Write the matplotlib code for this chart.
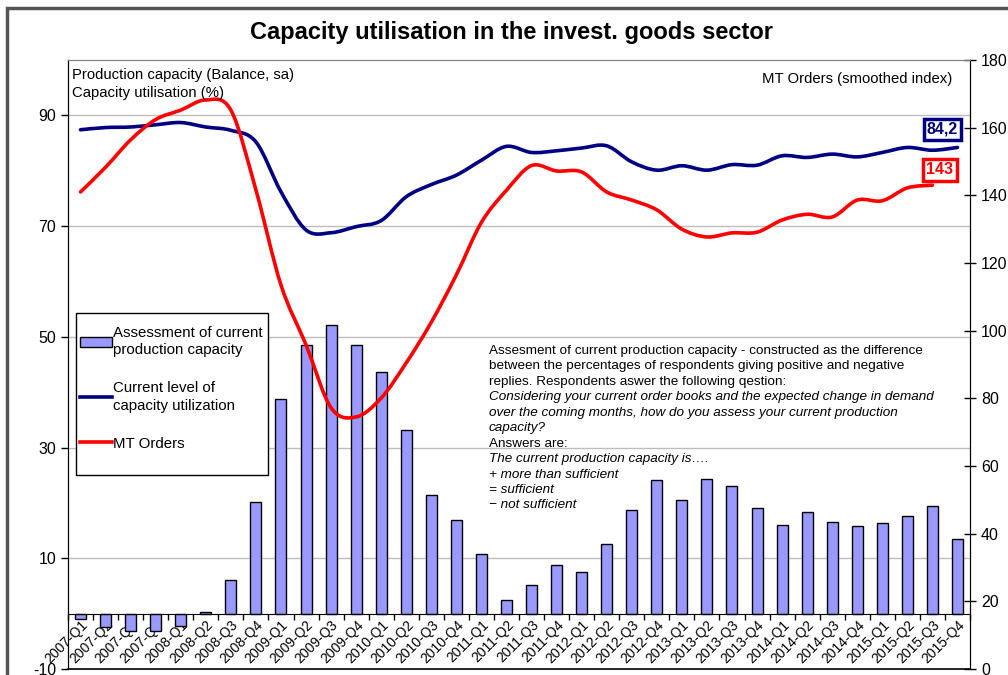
"""
Capacity utilisation in the invest. goods sector:
bars (production capacity balance) + two smoothed lines on twin axes.
"""

import numpy as np
import matplotlib.pyplot as plt
from matplotlib.path import Path
from matplotlib.patches import PathPatch, Rectangle
from matplotlib.lines import Line2D

plt.rcParams["font.family"] = ["Liberation Sans", "DejaVu Sans"]
plt.rcParams["axes.unicode_minus"] = False

# ── Data ─────────────────────────────────────────────────────────────────────

quarters = [f"{y}-Q{q}" for y in range(2007, 2016) for q in range(1, 5)]

capacity_balance = [
    -1.0, -2.5, -3.1, -3.1, -2.3, 0.3, 6.0, 20.2,
    38.8, 48.6, 52.2, 48.6, 43.7, 33.2, 21.5, 17.0,
    10.7, 2.5, 5.1, 8.7, 7.6, 12.5, 18.8, 24.2,
    20.6, 24.4, 23.0, 19.0, 16.1, 18.4, 16.6, 15.9,
    16.3, 17.7, 19.5, 13.5,
]

capacity_util = [
    87.4, 87.8, 87.9, 88.3, 88.7, 87.9, 87.3, 85.2,
    76.2, 69.3, 68.8, 69.9, 71.0, 75.3, 77.5, 79.2,
    81.9, 84.4, 83.3, 83.6, 84.1, 84.5, 81.6, 80.1,
    80.9, 80.1, 81.1, 81.0, 82.7, 82.4, 83.0, 82.5,
    83.3, 84.2, 83.7, 84.2,
]

mt_orders = [
    141.0, 148.3, 156.4, 162.4, 165.2, 168.2, 165.2, 141.6,
    113.5, 95.8, 77.2, 74.5, 80.1, 90.5, 102.5, 116.5,
    132.0, 141.5, 148.8, 147.2, 146.9, 141.0, 138.6, 135.7,
    130.0, 127.7, 128.9, 129.1, 132.7, 134.4, 133.6, 138.6,
    138.4, 142.2, 143.0,
]

# (text, italic?)
note_lines = [
    ("Assesment of current production capacity - constructed as the difference", False),
    ("between the percentages of respondents giving positive and negative", False),
    ("replies. Respondents aswer the following qestion:", False),
    ("Considering your current order books and the expected change in demand", True),
    ("over the coming months, how do you assess your current production", True),
    ("capacity?", True),
    ("Answers are:", False),
    ("The current production capacity is….", True),
    ("+ more than sufficient", True),
    ("= sufficient", True),
    ("− not sufficient", True),
]


# ── Helpers ──────────────────────────────────────────────────────────────────

def smooth_path(xs, ys):
    """Excel-style smoothed line: cubic Bezier through every point."""
    pts = np.column_stack([xs, ys]).astype(float)
    n = len(pts)
    verts, codes = [pts[0]], [Path.MOVETO]
    for i in range(n - 1):
        p0 = pts[max(i - 1, 0)]
        p1, p2 = pts[i], pts[i + 1]
        p3 = pts[min(i + 2, n - 1)]
        verts += [p1 + (p2 - p0) / 6, p2 - (p3 - p1) / 6, p2]
        codes += [Path.CURVE4] * 3
    return Path(verts, codes)


def px(xp, yp):
    """Pixel position (from top-left) -> figure fraction."""
    return xp / 1008, 1 - yp / 675


# ── Plot ─────────────────────────────────────────────────────────────────────

fig = plt.figure(figsize=(10.08, 6.75), dpi=100)
ax = fig.add_axes([68 / 1008, 6 / 675, 902 / 1008, 609 / 675])
ax2 = ax.twinx()

x = np.arange(len(quarters))
navy, red = "#000080", "#FF0000"

# gridlines
for g in [10, 30, 50, 70, 90]:
    ax.axhline(g, color="#BDBDBD", lw=1, zorder=0)

ax.bar(x, capacity_balance, width=0.44, color="#9999FF",
       edgecolor="black", linewidth=1, zorder=2)

ax.add_patch(PathPatch(smooth_path(x, capacity_util), fill=False,
                       edgecolor=navy, lw=2.6, zorder=3, capstyle="round"))
ax2.add_patch(PathPatch(smooth_path(x[:len(mt_orders)], mt_orders), fill=False,
                        edgecolor=red, lw=2.6, zorder=3, capstyle="round"))

# axes ranges
ax.set_xlim(-0.5, len(quarters) - 0.5)
ax.set_ylim(-10, 100)
ax2.set_ylim(0, 180)

# left axis
ax.set_yticks([-10, 10, 30, 50, 70, 90])
ax.tick_params(axis="y", direction="out", length=5, width=1, labelsize=11.5)

# right axis
ax2.set_yticks(range(0, 181, 20))
ax2.tick_params(axis="y", direction="inout", length=9, width=1, labelsize=11.5)

# category axis sits at zero
ax.spines["bottom"].set_position(("data", 0))
ax.set_xticks(np.arange(-0.5, len(quarters), 1.0))
ax.set_xticklabels([])
ax.set_xticks(x, minor=True)
ax.set_xticklabels(quarters, minor=True, rotation=45, ha="right",
                   va="top", fontsize=10, rotation_mode="anchor")
ax.tick_params(axis="x", which="major", direction="out", length=4, width=1)
ax.tick_params(axis="x", which="minor", length=0, pad=3)
ax.axhline(-10, color="black", lw=1.2, zorder=4, clip_on=False)

for sp in ["left", "right", "bottom"]:
    ax.spines[sp].set_color("black")
    ax2.spines[sp].set_color("black")
ax.spines["top"].set_color("#808080")
ax2.spines["top"].set_color("#808080")
ax2.spines["bottom"].set_visible(False)

# texts
fig.text(*px(512, 33), "Capacity utilisation in the invest. goods sector",
         ha="center", va="center", fontsize=17, fontweight="bold")
fig.text(*px(72, 75), "Production capacity (Balance, sa)",
         ha="left", va="center", fontsize=10.7)
fig.text(*px(72, 93), "Capacity utilisation (%)",
         ha="left", va="center", fontsize=10.7)
fig.text(*px(952, 79), "MT Orders (smoothed index)",
         ha="right", va="center", fontsize=10.7)

for k, (line, italic) in enumerate(note_lines):
    fig.text(*px(489, 351 + 15.45 * k), line, ha="left", va="center",
             fontsize=9.7, style="italic" if italic else "normal")

# end-value labels
ax2.text(34.4, 159.5, "84,2", ha="center", va="center", fontsize=11.5,
         fontweight="bold", color=navy,
         bbox=dict(boxstyle="square,pad=0.2", fc="white", ec=navy, lw=2.5))
ax2.text(34.3, 147.5, "143", ha="center", va="center", fontsize=11.5,
         fontweight="bold", color=red,
         bbox=dict(boxstyle="square,pad=0.2", fc="white", ec=red, lw=2.5))

# legend: manual frame (under the legend), borderless legend inside it
lx0, ly0 = px(76, 475)
lx1, ly1 = px(268, 313)
ax2.add_artist(Rectangle((lx0, ly0), lx1 - lx0, ly1 - ly0,
                         transform=fig.transFigure, fc="white",
                         ec="black", lw=1, zorder=4.5, clip_on=False))
handles = [
    Rectangle((0, 0), 1, 1, fc="#9999FF", ec="black", lw=1),
    Line2D([], [], color=navy, lw=2.6),
    Line2D([], [], color=red, lw=2.6),
]
labels = ["Assessment of current\nproduction capacity",
          "Current level of\ncapacity utilization",
          "MT Orders"]
leg = ax2.legend(handles, labels, loc="upper left",
                 bbox_to_anchor=px(80, 326), bbox_transform=fig.transFigure,
                 borderaxespad=0, borderpad=0, fontsize=10.8,
                 handlelength=2.1, handletextpad=0.12, labelspacing=1.6,
                 frameon=False)
leg.set_zorder(6)
for t in leg.get_texts():
    t.set_linespacing(1.3)

# outer chart border
fig.patches.append(Rectangle((7 / 1008, -0.05), 1.1, 1.05 - 8 / 675,
                             transform=fig.transFigure, fill=False,
                             ec="#555555", lw=2.5))

fig.savefig("out.png", dpi=100)
